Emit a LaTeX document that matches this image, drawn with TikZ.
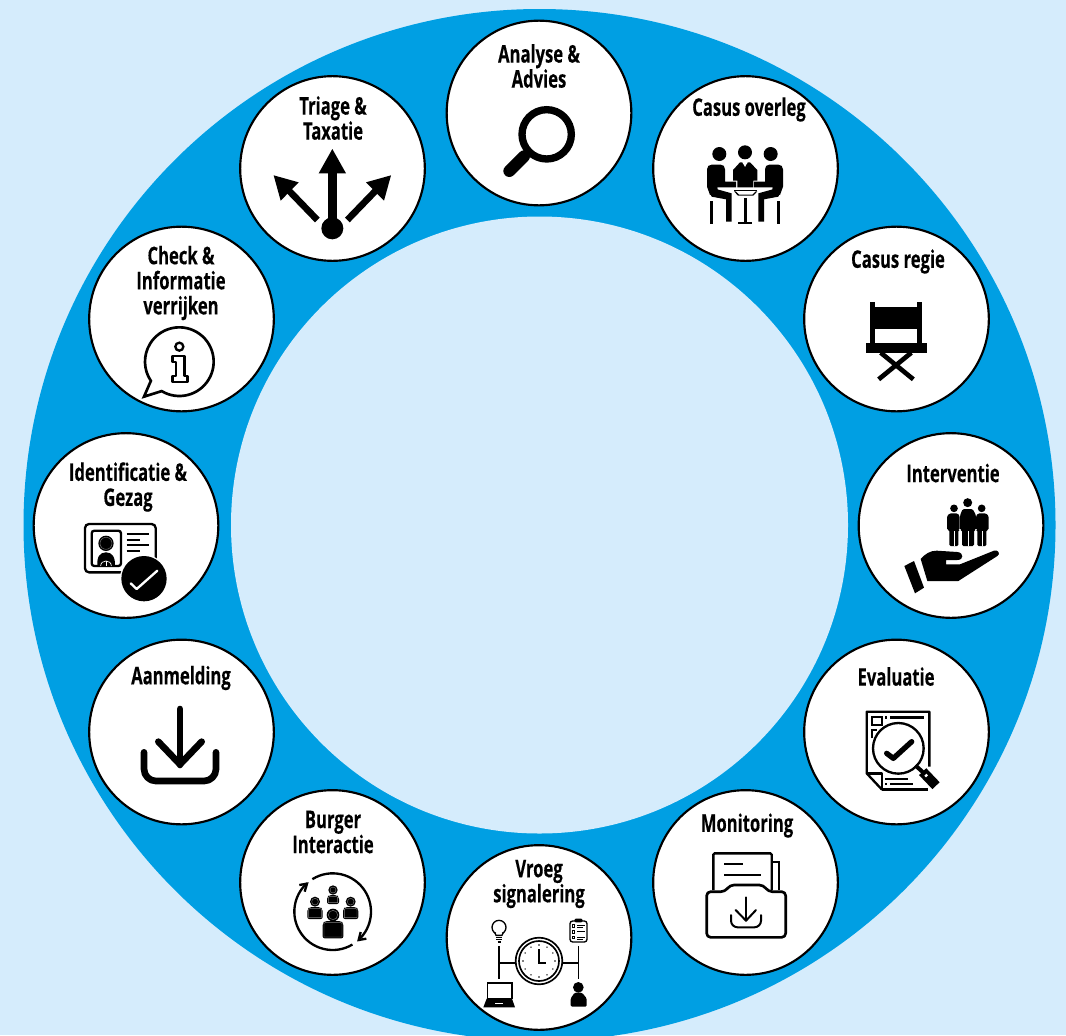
\documentclass[tikz,border=0pt]{standalone}
\usepackage{fontspec}
\setmainfont{Open Sans}[FakeStretch=0.685,BoldFeatures={FakeBold=0.25}]
\definecolor{bgblue}{HTML}{D5ECFC}
\definecolor{ringblue}{HTML}{009FE3}
\tikzset{
  disc/.style={circle,draw=black,line width=1.6pt,fill=white,minimum size=138.5pt,inner sep=0pt,outer sep=0pt},
  lab/.style={align=center,font=\fontsize{18.2}{18.8}\selectfont\bfseries,inner sep=0pt,text=black},
  zoomed/.style n args={2}{shift={(#1,#2)},scale=1/3},
  linew/.style={draw=black,line width=#1*.25pt},
  rnd/.style={line cap=round,line join=round},
}
\begin{document}
\begin{tikzpicture}[x=.75pt,y=-.75pt]
\useasboundingbox (0,0) rectangle (1066,1035);
\clip (0,0) rectangle (1066,1035);
\fill[bgblue] (0,0) rectangle (1066,1035);
\fill[ringblue] (539.5,525) circle[radius=516];
\fill[bgblue] (539.5,525) circle[radius=308.5];
% discs
\node[disc] (analyse) at (539,113) {};
\node[disc] (overleg) at (745.5,168.5) {};
\node[disc] (regie) at (896.5,319) {};
\node[disc] (interventie) at (951,525.5) {};
\node[disc] (evaluatie) at (896.5,732) {};
\node[disc] (monitoring) at (745.5,882.5) {};
\node[disc] (vroeg) at (539,937.5) {};
\node[disc] (burger) at (332.5,882.5) {};
\node[disc] (aanmelding) at (181.5,732) {};
\node[disc] (identificatie) at (126,525.5) {};
\node[disc] (check) at (181.5,319) {};
\node[disc] (triage) at (332.5,168.5) {};
% labels
\node[lab] (t1) at (539,66) {Analyse \&\\Advies};
\node[lab] (t2) at (749,109.5) {Casus overleg};
\node[lab] (t3) at (898,261.5) {Casus regie};
\node[lab] (t4) at (953,473) {Interventie};
\node[lab] (t5) at (896,676.5) {Evaluatie};
\node[lab] (t6) at (747,825.5) {Monitoring};
\node[lab] (t7) at (539,884) {Vroeg\\signalering};
\node[lab] (t8) at (333,832) {Burger\\Interactie};
\node[lab] (t9) at (181,678) {Aanmelding};
\node[lab] (t10) at (128,487) {Identificatie \&\\Gezag};
\node[lab] (t11) at (181,283) {Check \&\\Informatie\\verrijken};
\node[lab] (t12) at (333,118) {Triage \&\\Taxatie};
% Analyse magnifier
\begin{scope}[zoomed={490}{95}]
  \draw[linew=22] (170,118) circle[radius=74];
  \draw[linew=20] (122,165) -- (105,182);
  \draw[linew=36,line cap=round] (102,184) -- (58,228);
\end{scope}
% Casus overleg
\begin{scope}[zoomed={660}{80}]
  \foreach \m in {1,-1}{
  \begin{scope}[shift={(255,0)},xscale=\m,shift={(-255,0)}]
    \fill (178,222) circle[radius=21];
    \fill (141,268) .. controls (141,259) and (147,254) .. (155,254) -- (182,254) .. controls (190,254) and (195,259) .. (195,268) -- (195,305) -- (228,305) -- (228,322) -- (172,322) -- (174,335) -- (150,345) -- (141,320) -- cycle;
    \fill (172,328) -- (215,340) -- (215,425) -- (198,425) -- (198,358) -- (155,350) -- (150,340) -- cycle;
    \fill (150,362) rectangle (159,433);
  \end{scope}}
  \fill (255,217) circle[radius=21];
  \fill (219,270) -- (240,247) -- (248,247) -- (255,262) -- (262,247) -- (270,247) -- (292,270) -- (292,302) -- (280,302) -- (280,322) -- (232,322) -- (232,302) -- (219,302) -- cycle;
  \fill[white] (246,247) -- (264,247) -- (255,258) -- cycle;
  \fill (222,329) rectangle (292,334);
  \fill (222,334) -- (234,347) -- (280,347) -- (292,334) -- (287,334) -- (277,344) -- (237,344) -- (227,334) -- cycle;
  \fill (252,354) rectangle (260,426);
  \fill (235,427) rectangle (276,433);
\end{scope}
% Casus regie
\begin{scope}[zoomed={850}{290}]
  \fill (60,35) rectangle (75,165);
  \fill (201,35) rectangle (216,165);
  \fill (60,50) rectangle (216,118);
  \fill (47,160) rectangle (230,188);
  \draw[linew=14] (92,188) -- (190,268);
  \draw[linew=14] (184,188) -- (86,268);
\end{scope}
% Interventie
\begin{scope}[zoomed={870}{480}]
  \fill (252,85) circle[radius=11.5];
  \fill (293,68) circle[radius=13.5];
  \fill (335,85) circle[radius=11.5];
  \foreach \m in {1,-1}{
  \begin{scope}[shift={(293.5,0)},xscale=\m,shift={(-293.5,0)}]
    \fill[rounded corners=1pt] (231,150) -- (231,108) -- (239,100) -- (263,100) -- (269,108) -- (269,150) -- (265,150) -- (265,198) -- (238,198) -- (238,150) -- cycle;
    \fill[white] (250.6,152) rectangle (252.4,198);
  \end{scope}}
  \fill[rounded corners=1pt] (270,106) -- (278,87) -- (308,87) -- (318,106) -- (318,150) -- (312,150) -- (312,198) -- (276,198) -- (276,150) -- (270,150) -- cycle;
  \fill[white] (293,152) rectangle (295,198);
  \fill (103,258) -- (132,243) -- (162,323) -- (135,340) -- cycle;
  \fill (152,237) .. controls (165,222) and (180,212) .. (200,212) -- (262,216) .. controls (282,218) and (282,240) .. (262,240) -- (228,240) -- (228,253) -- (270,253) -- (372,212) .. controls (385,208) and (392,222) .. (382,228) -- (265,303) -- (172,303) -- cycle;
\end{scope}
% Evaluatie
\begin{scope}[zoomed={810}{660}]
  \draw[linew=7,line join=round] (215,388) -- (170,340) -- (170,155) -- (358,155) -- (358,320);
  \draw[linew=7,line join=round] (170,340) -- (215,340) -- (215,388) -- (355,388);
  \draw[linew=6] (187,172) rectangle (217,195);
  \draw[linew=6] (187,235) -- (187,210) -- (200,210);
  \draw[linew=7] (225,172) -- (232,172) (240,172) -- (342,172);
  \draw[linew=7] (225,357) -- (295,357) (225,372) -- (232,372) (240,372) -- (308,372);
  \draw[linew=7,fill=white] (265,265) circle[radius=76];
  \draw[linew=16,rnd] (230,280) -- (250,295) -- (305,245);
  \draw[linew=12] (316,316) -- (338,336);
  \draw[linew=30] (338,335) -- (378,377);
  \fill[white] (343,347) -- (349,341) -- (354,346) -- (348,352) -- cycle;
\end{scope}
% Monitoring
\begin{scope}[zoomed={670}{840}]
  \draw[linew=7,rounded corners=1pt] (130,150) -- (130,40) -- (305,40) -- (305,150);
  \draw[linew=7] (305,65) -- (327,65) -- (327,150);
  \draw[linew=6] (162,73) -- (220,73) (162,105) -- (272,105);
  \draw[linew=8,fill=white,rnd,rounded corners=3pt] (110,155) -- (165,155) -- (180,135) -- (280,135) -- (295,155) -- (347,155) -- (347,292) -- (110,292) -- cycle;
  \draw[linew=6,rnd] (228,172) -- (228,242);
  \draw[linew=6,rnd] (197,210) -- (228,242) -- (258,210);
  \draw[linew=6,rnd,rounded corners=5pt] (183,225) -- (183,262) -- (273,262) -- (273,225);
\end{scope}
% Vroeg signalering
\begin{scope}[zoomed={450}{850}]
  \draw[linew=4] (147,232) circle[radius=21];
  \fill[white] (137,248) rectangle (158,258);
  \draw[linew=4,line join=round] (134,247) -- (138,256) -- (156,256) -- (160,247);
  \draw[linew=4] (138,262) -- (157,262) (138,269) -- (157,269);
  \draw[linew=4] (143,276) -- (152,276);
  \draw[linew=4,rounded corners=2pt] (360,213) rectangle (411,276);
  \fill[rounded corners=1pt] (373,206) rectangle (398,217);
  \draw[linew=2] (367,223) rectangle (374,231) (367,241) rectangle (374,249) (367,258) rectangle (374,266);
  \draw[linew=3] (381,226) -- (405,226) (381,233) -- (400,233) (381,245) -- (405,245) (381,262) -- (405,262) (381,268) -- (398,268);
  \draw[linew=5] (147,288) -- (147,388) (147,338) -- (197,338);
  \draw[linew=5] (385,288) -- (385,388) (337,338) -- (385,338);
  \draw[linew=5] (267,333) circle[radius=70];
  \draw[linew=5] (267,333) circle[radius=60];
  \foreach \a in {0,30,...,330}{\fill (267,333) ++(\a:48) circle[radius=2.4];}
  \draw[linew=6,line join=miter] (267,297) -- (267,339) -- (288,339);
  \draw[linew=5] (112,399) rectangle (186,445);
  \fill (110,446) -- (186,446) -- (195,472) -- (100,472) -- cycle;
  \fill[white] (136,459) rectangle (158,462);
  \fill (385,412) circle[radius=16];
  \fill[rounded corners=1pt] (362,470) -- (362,445) -- (374,428) -- (396,428) -- (410,445) -- (410,470) -- cycle;
\end{scope}
% Burger interactie
\begin{scope}[zoomed={250}{800}]
  \draw[linew=7] (248,335) ++(-122:115) arc[start angle=-122,end angle=47,radius=115];
  \draw[linew=7] (248,335) ++(59:115) arc[start angle=59,end angle=228,radius=115];
  \draw[linew=7,line join=miter] (148,255) -- (171,251) -- (164,275);
  \draw[linew=7,line join=miter] (349,416) -- (326,420) -- (332,396);
  \foreach \x/\y/\r/\t/\b/\w in {249/270/14/285/312/18, 195/305/15/321/357/23, 302/305/15/321/357/23, 249/345/19/363/415/31}{
    \fill (\x,\y) circle[radius=\r];
    \fill[rounded corners=1.5pt] (\x-\w,\b) -- (\x-\w,\t+6) -- (\x-\w+7,\t) -- (\x+\w-7,\t) -- (\x+\w,\t+6) -- (\x+\w,\b) -- cycle;
    \draw[gray,line width=.3pt] (\x,\y) circle[radius=\r-5];
    \draw[gray,line width=.3pt] (\x-\w+4,\b-4) -- (\x-\w+4,\t+7) -- (\x-\w+9,\t+4) -- (\x+\w-9,\t+4) -- (\x+\w-4,\t+7) -- (\x+\w-4,\b-4) -- cycle;
  }
\end{scope}
% Aanmelding
\begin{scope}[zoomed={130}{695}]
  \draw[linew=20,line cap=round] (150,42) -- (150,210);
  \draw[linew=20,rnd] (85,140) -- (150,208) -- (215,140);
  \draw[linew=20,rnd,rounded corners=9pt] (42,172) -- (42,258) -- (258,258) -- (258,172);
\end{scope}
% Identificatie
\begin{scope}[zoomed={40}{440}]
  \draw[linew=7,rounded corners=3pt] (135,252) rectangle (347,397);
  \draw[linew=7,rounded corners=2pt] (155,272) rectangle (243,378);
  \fill (198,310) circle[radius=23];
  \draw[gray,line width=.3pt] (198,310) circle[radius=18];
  \fill (172,378) .. controls (170,350) and (180,337) .. (198,337) .. controls (216,337) and (226,350) .. (225,378) -- cycle;
  \draw[white,line width=.5pt] (182,378) .. controls (182,358) and (214,358) .. (214,378);
  \draw[white,line width=.5pt] (198,378) -- (198,362);
  \draw[linew=6] (260,283) -- (327,283) (260,300) -- (300,300) (260,315) -- (327,315) (260,332) -- (300,332);
  \fill[white] (312,416) circle[radius=72];
  \fill (312,416) circle[radius=68];
  \draw[linew=7,draw=white,rnd] (272,430) -- (290,447) -- (352,392);
\end{scope}
% Check info
\begin{scope}[zoomed={130}{320}]
  \draw[linew=8,line join=miter] (148,125) ++(121:103) arc[start angle=121,end angle=-214,radius=103] -- (42,230) -- cycle;
  \draw[linew=7] (148,80) circle[radius=12];
  \draw[linew=7,line join=round] (127,107) -- (163,107) -- (163,167) -- (172,167) -- (172,185) -- (127,185) -- (127,167) -- (137,167) -- (137,125) -- (127,125) -- cycle;
\end{scope}
% Triage
\begin{scope}[zoomed={260}{140}]
  \fill (217,27) -- (258,100) -- (176,100) -- cycle;
  \fill (204,98) rectangle (231,250);
  \fill (217,265) circle[radius=33];
  \fill (41,106) -- (116,127) -- (62,182) -- cycle;
  \draw[linew=20] (85,150) -- (172,240);
  \fill (393,106) -- (318,127) -- (372,182) -- cycle;
  \draw[linew=20] (349,150) -- (262,240);
\end{scope}
\end{tikzpicture}
\end{document}
